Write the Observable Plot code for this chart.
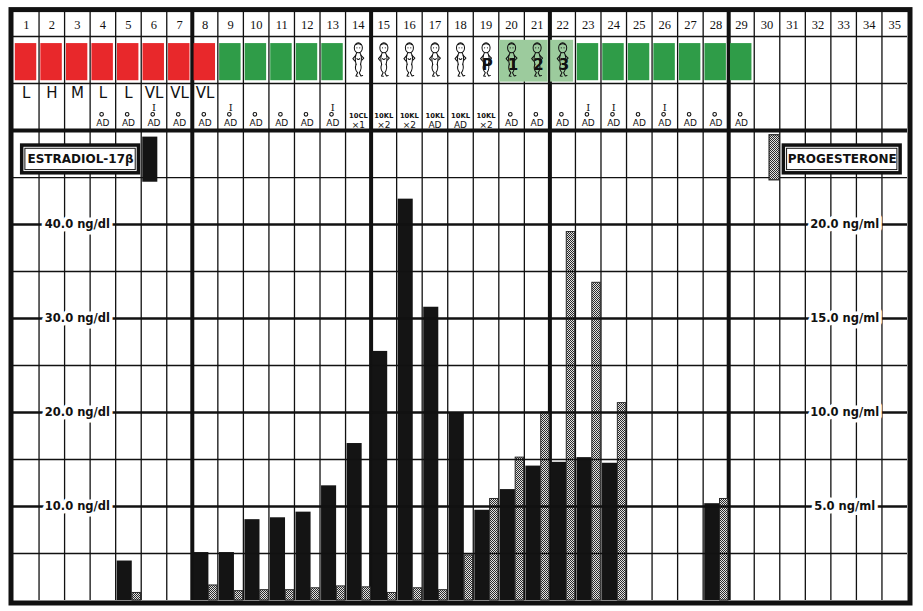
<!DOCTYPE html>
<html>
<head>
<meta charset="utf-8">
<script src="https://cdn.jsdelivr.net/npm/d3@7"></script>
<script src="https://cdn.jsdelivr.net/npm/@observablehq/plot@0.6"></script>
<style>
  html, body { margin: 0; padding: 0; background: #fff; }
  #chart svg { display: block; }
</style>
</head>
<body>
<div id="chart"></div>
<script>
// ---------------- DATA ----------------
const days = d3.range(1, 36);                       // day columns 1..35
const weekEnds = [7, 14, 21, 28];                   // heavy separators after these days

// Estradiol-17β (ng/dl), black bars
const estradiolDays   = [5, 8, 9, 10, 11, 12, 13, 14, 15, 16, 17, 18, 19, 20, 21, 22, 23, 24, 28];
const estradiolValues = [4.2, 5.1, 5.1, 8.6, 8.8, 9.4, 12.2, 16.7, 26.5, 42.7, 31.2, 20.0, 9.6, 11.8, 14.3, 14.7, 15.2, 14.6, 10.3];

// Progesterone (ng/ml), stippled bars
const progesteroneDays   = [5, 8, 9, 10, 11, 12, 13, 14, 15, 16, 17, 18, 19, 20, 21, 22, 23, 24, 28];
const progesteroneValues = [0.4, 0.8, 0.5, 0.55, 0.55, 0.65, 0.75, 0.7, 0.4, 0.65, 0.55, 2.4, 5.4, 7.6, 10.0, 19.6, 16.9, 10.5, 5.4];

// axis ticks
const estradiolTicks    = [10, 20, 30, 40];        // ng/dl
const progesteroneTicks = [5, 10, 15, 20];         // ng/ml
const minorGrid = [5, 15, 25, 35, 45];

// header rows
const redDays   = [1, 2, 3, 4, 5, 6, 7, 8];
const greenDays = [9, 10, 11, 12, 13, 23, 24, 25, 26, 27, 28, 29];
const babyDays  = [14, 15, 16, 17, 18, 19, 20, 21, 22];
const lightGreenSpans = [{from: 20, to: 21}, {from: 22, to: 22}];
const babyLabels = [{day: 19, text: "P"}, {day: 20, text: "1"}, {day: 21, text: "2"}, {day: 22, text: "3"}];

const regimenDays    = [1, 2, 3, 4, 5, 6, 7, 8];
const regimenLetters = ["L", "H", "M", "L", "L", "VL", "VL", "VL"];
const romanIDays = [6, 9, 13, 23, 24, 26];
const adDays = [4, 5, 6, 7, 8, 9, 10, 11, 12, 13, 20, 21, 22, 23, 24, 25, 26, 27, 28, 29];
const kitDays   = [14, 15, 16, 17, 18, 19];
const kitTop    = ["10CL", "10KL", "10KL", "10KL", "10KL", "10KL"];
const kitBottom = ["×1", "×2", "×2", "AD", "AD", "×2"];

const legendItems = [{series: "estradiol", day: 6}, {series: "progesterone", day: 30}];
const legendLabels = ["ESTRADIOL-17β", "PROGESTERONE"];

// ---------------- LAYOUT (not data) ----------------
const PROG_FACTOR = 2;   // 20 ng/ml sits on the 40 ng/dl line
const Y_TOP = 62.6, Y_NUM = 60, Y_LET = 55, Y_CHART = 50;
const RED = "#e8282b", GREEN = "#2f9c48", LIGHTGREEN = "#9ccb9d";
const labelFont = "DejaVu Sans";

const estradiol = estradiolDays.map((d, i) => ({day: d, value: estradiolValues[i]}));
const progesterone = progesteroneDays.map((d, i) => ({day: d, value: progesteroneValues[i]}));
const colorCells = [...redDays.map(d => ({day: d, c: RED})), ...greenDays.map(d => ({day: d, c: GREEN}))];
const regimen = regimenDays.map((d, i) => ({day: d, text: regimenLetters[i]}));
const kits = kitDays.map((d, i) => ({day: d, top: kitTop[i], bottom: kitBottom[i]}));
const boxes = [
  {label: legendLabels[0], x1: 0.34, x2: 4.91},
  {label: legendLabels[1], x1: 30.16, x2: 34.73}
];
const thinCols = days.slice(0, 34).filter(d => !weekEnds.includes(d));

const babySvg = `<svg xmlns='http://www.w3.org/2000/svg' viewBox='0 0 16 38' width='16' height='38'>
<g fill='none' stroke='#111' stroke-width='1.1' stroke-linecap='round' stroke-linejoin='round'>
<ellipse cx='8' cy='6.5' rx='4.3' ry='5.3'/>
<path d='M5 3.2 Q8 1 11 3.2'/>
<path d='M6.2 12 C4.4 15 4.6 20 5.6 24'/>
<path d='M9.8 12 C11.8 15 11.4 20 10.4 24'/>
<path d='M5.2 14.5 L2.2 18 L4.2 20.5'/>
<path d='M10.8 14.5 L13.8 17.5 L11.8 19.5'/>
<path d='M5.6 24 C4.2 28 5.2 31 7.2 33 L5.4 36.5 L7.5 36.8'/>
<path d='M10.4 24 C12 28 10.4 31 9 33 L10.8 36.5 L12.6 36'/>
<path d='M6.5 18 Q8 20 9.5 18'/>
</g>
<circle cx='6.5' cy='6.5' r='0.6' fill='#111'/><circle cx='9.5' cy='6.5' r='0.6' fill='#111'/>
</svg>`;
const babySrc = "data:image/svg+xml;charset=utf-8," + encodeURIComponent(babySvg);

const svg = Plot.plot({
  width: 923,
  height: 611,
  marginLeft: 13,
  marginRight: 16,
  marginTop: 11.6,
  marginBottom: 11,
  x: {domain: [0, 35], axis: null},
  y: {domain: [0, Y_TOP], axis: null},
  marks: [
    // vertical column lines
    Plot.ruleX(thinCols, {x: d => d, y1: 0, y2: Y_TOP, stroke: "#111", strokeWidth: 1.3}),
    Plot.ruleX(weekEnds, {x: d => d, y1: 0, y2: Y_TOP, stroke: "#111", strokeWidth: 4}),
    // header boxes
    Plot.rect(lightGreenSpans, {x1: d => d.from - 1 + 0.03, x2: d => d.to - 0.07, y1: () => 55.15, y2: () => 59.6, fill: LIGHTGREEN}),
    Plot.rect(colorCells, {x1: d => d.day - 1 + 0.07, x2: d => d.day - 0.09, y1: () => 55.3, y2: () => 59.25, fill: d => d.c}),
    Plot.image(babyDays, {x: d => d - 0.5, y: () => 57.55, width: 15, height: 36, src: () => babySrc}),
    Plot.text(babyLabels, {x: d => d.day - 0.45, y: () => 56.9, text: "text", fontFamily: labelFont, fontWeight: "bold", fontSize: 15, fill: "#111"}),
    // bars
    Plot.rect(estradiol, {x1: d => d.day - 1 + 0.06, x2: d => d.day - 1 + 0.65, y1: () => 0, y2: "value", fill: "#141414"}),
    Plot.rect(progesterone, {x1: d => d.day - 1 + 0.66, x2: d => d.day - 1 + 0.99, y1: () => 0, y2: d => d.value * PROG_FACTOR, fill: "url(#stipple)", stroke: "#2a2a2a", strokeWidth: 1}),
    // horizontal grid lines
    Plot.ruleY(minorGrid, {x1: 0, x2: 35, y: d => d, stroke: "#111", strokeWidth: 1.3}),
    Plot.ruleY(estradiolTicks, {x1: 0, x2: 35, y: d => d, stroke: "#111", strokeWidth: 2.6}),
    Plot.ruleY([Y_CHART], {x1: 0, x2: 35, y: d => d, stroke: "#111", strokeWidth: 4}),
    Plot.ruleY([Y_LET, Y_NUM], {x1: 0, x2: 35, y: d => d, stroke: "#111", strokeWidth: 1.5}),
    // legend swatches
    Plot.rect(legendItems.filter(d => d.series === "estradiol"), {x1: d => d.day - 1 + 0.06, x2: d => d.day - 1 + 0.65, y1: () => 44.5, y2: () => 49.3, fill: "#141414"}),
    Plot.rect(legendItems.filter(d => d.series === "progesterone"), {x1: d => d.day - 1 + 0.6, x2: d => d.day - 1 + 1.0, y1: () => 44.7, y2: () => 49.5, fill: "url(#stipple)", stroke: "#222", strokeWidth: 1.2}),
    // legend boxes
    Plot.rect(boxes, {x1: "x1", x2: "x2", y1: () => 45.45, y2: () => 48.4, fill: "white", stroke: "#111", strokeWidth: 3.5}),
    Plot.rect(boxes, {x1: "x1", x2: "x2", y1: () => 45.45, y2: () => 48.4, inset: 3.2, fill: "none", stroke: "#111", strokeWidth: 1}),
    Plot.text(boxes, {x: d => (d.x1 + d.x2) / 2, y: () => 46.92, text: "label", fontFamily: labelFont, fontWeight: "bold", fontSize: 12, fill: "#111"}),
    // tick labels (white halo then text)
    Plot.text(estradiolTicks, {x: () => 2.5, y: d => d, text: d => `${d3.format(".1f")(d)} ng/dl`, fontFamily: labelFont, fontWeight: "bold", fontSize: 11.5, fill: "white", stroke: "white", strokeWidth: 7}),
    Plot.text(estradiolTicks, {x: () => 2.5, y: d => d, text: d => `${d3.format(".1f")(d)} ng/dl`, fontFamily: labelFont, fontWeight: "bold", fontSize: 11.5, fill: "#111"}),
    Plot.text(progesteroneTicks, {x: () => 32.54, y: d => d * PROG_FACTOR, text: d => `${d3.format(".1f")(d)} ng/ml`, fontFamily: labelFont, fontWeight: "bold", fontSize: 11.5, fill: "white", stroke: "white", strokeWidth: 7}),
    Plot.text(progesteroneTicks, {x: () => 32.54, y: d => d * PROG_FACTOR, text: d => `${d3.format(".1f")(d)} ng/ml`, fontFamily: labelFont, fontWeight: "bold", fontSize: 11.5, fill: "#111"}),
    // header numbers
    Plot.text(days, {x: d => d - 0.5, y: () => 61.28, text: d => String(d), fontFamily: "Liberation Serif", fontSize: 12.5, fill: "#111"}),
    // regimen row
    Plot.text(regimen, {x: d => d.day - 0.5, y: () => 53.95, text: "text", fontFamily: labelFont, fontSize: 15, fill: "#111"}),
    Plot.text(romanIDays, {x: d => d - 0.5, y: () => 52.38, text: () => "I", fontFamily: "DejaVu Serif", fontSize: 10, fill: "#111"}),
    Plot.dot(adDays, {x: d => d - 0.55, y: () => 51.72, r: 1.8, stroke: "#111", strokeWidth: 1.1, fill: "white"}),
    Plot.text(adDays, {x: d => d - 0.5, y: () => 50.78, text: () => "AD", fontFamily: labelFont, fontSize: 9, fill: "#111"}),
    Plot.text(kits, {x: d => d.day - 0.5, y: () => 51.55, text: "top", fontFamily: labelFont, fontWeight: "bold", fontSize: 6.8, fill: "#111"}),
    Plot.text(kits, {x: d => d.day - 0.5, y: () => 50.62, text: "bottom", fontFamily: labelFont, fontSize: 9, fill: "#111"}),
    // outer frame
    Plot.frame({stroke: "#111", strokeWidth: 5, inset: -2.5})
  ]
});

const defs = document.createElementNS("http://www.w3.org/2000/svg", "defs");
defs.innerHTML = `<pattern id="stipple" width="2" height="2" patternUnits="userSpaceOnUse">
  <rect width="2" height="2" fill="#e2e2e2"/>
  <rect x="0" y="0" width="1" height="1" fill="#2a2a2a"/>
  <rect x="1" y="1" width="1" height="1" fill="#2a2a2a"/>
</pattern>`;
svg.insertBefore(defs, svg.firstChild);
document.getElementById("chart").appendChild(svg);
</script>
</body>
</html>
